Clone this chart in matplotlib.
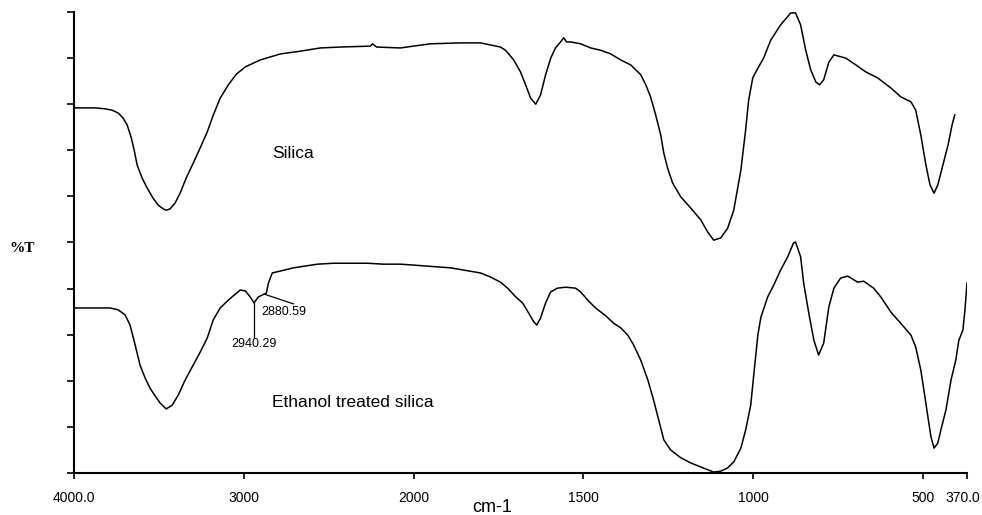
import numpy as np
import matplotlib
matplotlib.use("Agg")
import matplotlib.pyplot as plt
from matplotlib import font_manager
import matplotlib.transforms as mtransforms

# ---------------- data (wavenumber cm-1, %T) ----------------
silica_wn = [4000, 3876, 3817, 3776, 3740, 3711, 3687, 3664, 3646, 3628, 3599, 3569, 3534,
             3504, 3475, 3457, 3434, 3404, 3375, 3339, 3298, 3257, 3215, 3180, 3139, 3091,
             3044, 2991, 2903, 2785, 2667, 2549, 2431, 2254, 2242, 2218, 2077, 2000, 1950,
             1861, 1803, 1744, 1729, 1705, 1685, 1670, 1655, 1640, 1626, 1611, 1596, 1582,
             1567, 1558, 1549, 1537, 1508, 1478, 1449, 1419, 1390, 1360, 1331, 1316, 1302,
             1287, 1272, 1263, 1252, 1237, 1213, 1184, 1154, 1134, 1116, 1095, 1075, 1057,
             1036, 1022, 1013, 1001, 986, 969, 948, 919, 889, 875, 860, 845, 830, 815, 804,
             792, 777, 762, 727, 697, 668, 633, 594, 565, 535, 521, 506, 491, 479, 467, 456,
             441, 426, 414, 406]
silica_t = [79.2, 79.2, 79.0, 78.7, 78.1, 77.0, 75.5, 72.9, 70.1, 66.8, 64.0, 61.8, 59.6,
            58.1, 57.3, 57.0, 57.3, 58.6, 60.7, 64.0, 67.2, 70.5, 74.0, 77.6, 81.3, 84.2,
            86.5, 88.1, 89.6, 90.9, 91.5, 92.2, 92.4, 92.6, 93.1, 92.4, 92.2, 92.6, 93.1,
            93.3, 93.3, 92.4, 91.7, 89.6, 87.0, 84.2, 81.3, 80.0, 82.0, 86.4, 90.0, 92.2,
            93.5, 94.4, 93.5, 93.5, 93.1, 92.2, 91.7, 90.9, 89.6, 88.5, 86.4, 84.2, 81.6,
            77.7, 73.3, 69.4, 66.2, 62.9, 59.9, 57.5, 54.9, 52.3, 50.5, 51.0, 53.1, 57.0,
            65.7, 74.4, 80.9, 85.7, 87.8, 90.0, 93.9, 97.2, 99.8, 99.8, 97.2, 91.7, 87.4,
            84.8, 84.2, 85.3, 89.1, 90.7, 90.0, 88.5, 87.0, 85.7, 83.5, 81.6, 80.5, 78.7,
            73.3, 66.8, 62.5, 60.7, 62.5, 66.8, 71.1, 75.5, 77.7]

ethanol_wn = [4000, 3847, 3788, 3740, 3699, 3670, 3640, 3611, 3581, 3552, 3522, 3493, 3457,
              3422, 3386, 3345, 3298, 3257, 3215, 3180, 3139, 3091, 3050, 3021, 2991, 2962,
              2940, 2914, 2880, 2867, 2855, 2832, 2785, 2708, 2566, 2472, 2372, 2271, 2177,
              2077, 2000, 1891, 1803, 1773, 1744, 1723, 1699, 1679, 1661, 1646, 1637, 1626,
              1611, 1596, 1576, 1552, 1523, 1508, 1487, 1464, 1434, 1411, 1390, 1369, 1352,
              1331, 1310, 1293, 1278, 1263, 1243, 1213, 1184, 1154, 1116, 1095, 1075, 1057,
              1036, 1022, 1007, 998, 986, 977, 957, 939, 919, 898, 881, 875, 860, 851, 836,
              821, 807, 792, 777, 762, 742, 721, 692, 674, 645, 624, 594, 574, 556, 535, 521,
              506, 497, 485, 476, 467, 456, 447, 432, 417, 403, 394, 382, 376, 370]
ethanol_t = [35.8, 35.8, 35.8, 35.4, 34.3, 32.1, 27.8, 23.4, 20.6, 18.4, 16.7, 15.2, 13.9,
             14.7, 16.9, 20.2, 23.4, 26.2, 29.3, 33.2, 35.8, 37.5, 38.8, 39.7, 39.5, 38.2,
             36.9, 38.2, 38.8, 39.0, 41.2, 43.4, 43.8, 44.5, 45.3, 45.5, 45.5, 45.5, 45.3,
             45.3, 45.1, 44.5, 43.4, 42.5, 41.4, 40.1, 38.2, 36.9, 34.7, 32.8, 32.1, 33.6,
             36.9, 39.3, 40.1, 40.3, 40.1, 39.3, 37.5, 35.8, 34.1, 32.5, 31.5, 29.9, 27.8,
             24.5, 20.2, 15.8, 11.5, 7.2, 5.0, 3.3, 2.2, 1.3, 0.2, 0.4, 1.1, 2.4,
             5.4, 9.3, 14.7, 21.3, 29.9, 33.8, 38.2, 40.8, 44.0, 46.9, 49.9, 50.1, 46.9, 41.2,
             34.7, 28.8, 25.6, 28.2, 36.0, 40.1, 42.3, 42.7, 41.4, 41.6, 40.1, 38.2, 34.9,
             33.2, 31.7, 29.9, 27.3, 22.3, 18.0, 12.1, 7.8, 5.4, 6.5, 9.3, 13.7, 20.2, 24.5,
             28.8, 31.0, 35.4, 41.2]

xtick_vals = [4000, 3000, 2000, 1500, 1000, 500, 370]
xtick_labels = ["4000.0", "3000", "2000", "1500", "1000", "500", "370.0"]
peak_labels = ["2940.29", "2880.59"]
series_names = ["Silica", "Ethanol treated silica"]

# ---------------- fonts ----------------
names = {f.name for f in font_manager.fontManager.ttflist}
narrow = "Liberation Sans Narrow" if "Liberation Sans Narrow" in names else None
plt.rcParams["font.family"] = ["Liberation Sans", "DejaVu Sans"]
tick_font = dict(family=narrow, size=12) if narrow else dict(family="Liberation Sans", size=10)
ann_font = dict(family=narrow, size=10.5) if narrow else dict(family="Liberation Sans", size=9)

# ---------------- scale: compressed above 2000 cm-1 ----------------
def fwd(w):
    w = np.asarray(w, dtype=float)
    return np.where(w <= 2000, w, 2000 + (w - 2000) / 2.0)

def inv(u):
    u = np.asarray(u, dtype=float)
    return np.where(u <= 2000, u, 2000 + (u - 2000) * 2.0)

fig = plt.figure(figsize=(9.82, 5.15), dpi=100)
ax = fig.add_axes([74 / 982, (515 - 473) / 515, (967 - 74) / 982, (473 - 12) / 515])
ax.set_xscale("function", functions=(fwd, inv))

ax.plot(silica_wn, silica_t, color="black", lw=1.1, solid_joinstyle="round")
ax.plot(ethanol_wn, ethanol_t, color="black", lw=1.1, solid_joinstyle="round")

ax.set_xlim(4000, 370)
ax.set_ylim(0, 100)

ax.set_xticks(xtick_vals)
ax.set_xticklabels(xtick_labels, **tick_font)
ax.minorticks_off()
ax.set_yticks(np.arange(0, 101, 10))
ax.set_yticklabels([])
ax.tick_params(axis="x", direction="out", length=4, width=1.2, pad=9)
ax.tick_params(axis="y", direction="out", length=5, width=1.2)

# keep the last tick label inside the figure
last = ax.get_xticklabels()[-1]
last.set_transform(last.get_transform() +
                   mtransforms.ScaledTranslation(-4 / 100, 0, fig.dpi_scale_trans))

for s in ["top", "right"]:
    ax.spines[s].set_visible(False)
for s in ["left", "bottom"]:
    ax.spines[s].set_linewidth(1.5)

# peak annotations
ax.plot([2940, 2940], [36.9, 29.5], color="black", lw=0.9)
ax.text(2940, 29.3, peak_labels[0], ha="center", va="top", **ann_font)
ax.plot([2880, 2708], [38.8, 36.7], color="black", lw=0.9)
ax.text(2767, 34.9, peak_labels[1], ha="center", va="center", **ann_font)

# series labels
ax.text(2832, 69.4, series_names[0], ha="left", va="center", fontsize=12.5)
ax.text(2832, 15.2, series_names[1], ha="left", va="center", fontsize=12.5)

fig.text(22 / 982, 1 - 249 / 515, "%T", ha="center", va="center",
         family=["Liberation Serif", "DejaVu Serif"], fontweight="bold", fontsize=11)
fig.text(492 / 982, 1 - 507 / 515, "cm-1", ha="center", va="center", fontsize=13)

fig.savefig("out.png", dpi=100)
